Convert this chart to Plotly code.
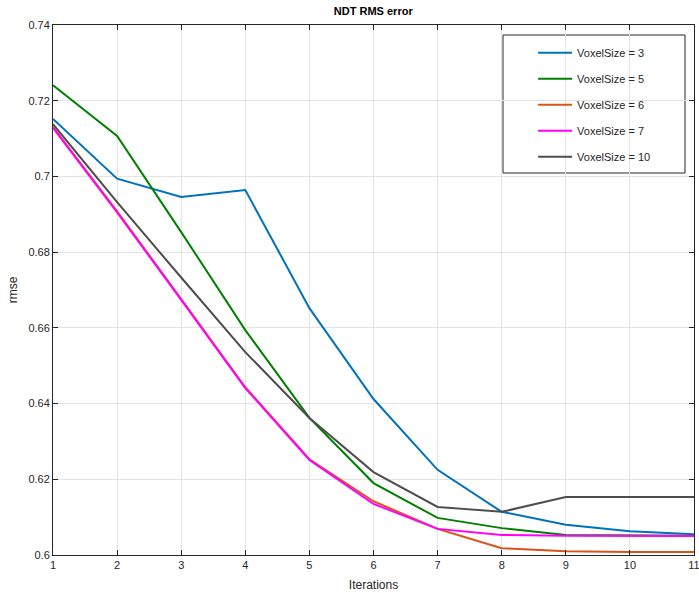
import plotly.graph_objects as go

iterations = [1, 2, 3, 4, 5, 6, 7, 8, 9, 10, 11]
series_names = ["VoxelSize = 3", "VoxelSize = 5", "VoxelSize = 6", "VoxelSize = 7", "VoxelSize = 10"]
rmse_v3 = [0.7152, 0.6994, 0.6946, 0.6964, 0.6652, 0.6412, 0.6225, 0.6114, 0.6080, 0.6063, 0.6055]
rmse_v5 = [0.7241, 0.7107, 0.6853, 0.6594, 0.6362, 0.6190, 0.6098, 0.6071, 0.6053, 0.6052, 0.6051]
rmse_v6 = [0.7130, 0.6908, 0.6676, 0.6443, 0.6253, 0.6142, 0.6069, 0.6018, 0.6010, 0.6008, 0.6008]
rmse_v7 = [0.7128, 0.6905, 0.6674, 0.6441, 0.6251, 0.6135, 0.6069, 0.6053, 0.6051, 0.6050, 0.6050]
rmse_v10 = [0.7138, 0.6932, 0.6733, 0.6536, 0.6362, 0.6219, 0.6127, 0.6114, 0.6153, 0.6153, 0.6153]
colors = ["#0072BD", "#008000", "#D95319", "#FF00FF", "#4D4D4D"]
y_ticks = [0.6, 0.62, 0.64, 0.66, 0.68, 0.7, 0.72, 0.74]
y_ticklabels = ["0.6", "0.62", "0.64", "0.66", "0.68", "0.7", "0.72", "0.74"]

fig = go.Figure()
for i, (name, vals, col) in enumerate(zip(series_names, [rmse_v3, rmse_v5, rmse_v6, rmse_v7, rmse_v10], colors)):
    fig.add_trace(go.Scatter(x=iterations, y=vals, mode="lines", name=name,
                             legendgroup=f"g{i}",
                             line=dict(color=col, width=2)))

axis_common = dict(showline=True, linecolor="#262626", linewidth=1, mirror="ticks",
                   ticks="inside", ticklen=5, tickcolor="#262626", automargin=False,
                   ticklabeloverflow="allow",
                   showgrid=True, gridcolor="#e3e3e3", gridwidth=1, zeroline=False,
                   tickfont=dict(family="Liberation Sans, Arial", size=11, color="#262626"),
                   title_font=dict(family="Liberation Sans, Arial", size=12, color="#262626"))

fig.update_layout(
    width=699, height=593,
    margin=dict(l=53, r=5, t=25, b=38),
    paper_bgcolor="white", plot_bgcolor="white",
    title=dict(text="<b>NDT RMS error</b>", x=0.534, xanchor="center", y=0.982, yanchor="middle",
               font=dict(family="Liberation Sans, Arial", size=11, color="black")),
    xaxis=dict(range=[0.9999, 11.0001], tickvals=iterations, title=dict(text="Iterations", standoff=10), **axis_common),
    yaxis=dict(range=[0.6, 0.74], tickvals=y_ticks, ticktext=y_ticklabels,
               title=dict(text="rmse", standoff=8), **axis_common),
    legend=dict(x=0.749, y=0.975, xanchor="left", yanchor="top",
                bgcolor="rgba(0,0,0,0)", borderwidth=0,
                font=dict(family="Liberation Sans, Arial", size=11, color="#262626"),
                tracegroupgap=7, itemwidth=34),
    showlegend=True,
)
fig.add_shape(type="rect", xref="paper", yref="paper",
              x0=(503 - 53) / 641, x1=(685 - 53) / 641,
              y0=(555 - 173) / 530, y1=(555 - 35) / 530,
              line=dict(color="#262626", width=1), fillcolor="white", layer="below")

fig.write_html("out.html")
